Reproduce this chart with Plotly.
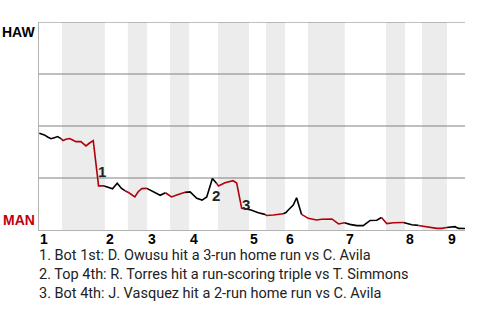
import plotly.graph_objects as go

# Win-probability track (x = play index, y = HAW win probability)
play_x = [0.1, 1.6, 2.6, 3.6, 4.6, 5.6, 6.6,
          7.2, 8.1, 9.2, 10.1, 11.1, 12.6, 14.1, 15.1, 16.3, 17.9, 19.6,
          22.1, 23.5, 24.8, 25.8, 26.9,
          28.8, 29.8, 30.9, 32.4,
          33.9, 34.9, 36.4, 38.0, 39.8,
          41.4, 42.9, 43.9, 45.4,
          47.4, 49.0, 50.4, 52.1, 53.4, 53.9,
          55.9, 58.3, 59.4, 60.9, 62.4, 63.7,
          65.9, 67.9, 68.4,
          70.4, 73.4, 74.2,
          74.9, 76.4, 77.4, 78.9, 80.9,
          83.4, 84.9, 88.0, 88.9, 90.0, 91.8,
          93.4, 95.5, 97.4, 99.5, 101.5, 102.9, 104.5,
          106.5, 109.5,
          110.5, 112.0, 114.0, 115.4,
          117.5, 119.5, 121.0, 122.5,
          124.0, 125.0, 126.0, 128.0]
haw_prob = [0.465, 0.457, 0.447, 0.439, 0.444, 0.449, 0.439,
            0.430, 0.436, 0.440, 0.433, 0.425, 0.425, 0.404, 0.417, 0.430, 0.212, 0.212,
            0.198, 0.225, 0.200, 0.189, 0.180,
            0.159, 0.184, 0.199, 0.200,
            0.189, 0.179, 0.167, 0.179, 0.159,
            0.168, 0.176, 0.181, 0.183,
            0.152, 0.144, 0.159, 0.248, 0.224, 0.212,
            0.227, 0.237, 0.226, 0.104, 0.101, 0.096,
            0.083, 0.075, 0.070,
            0.072, 0.078, 0.084,
            0.096, 0.120, 0.155, 0.075, 0.056,
            0.048, 0.052, 0.053, 0.041, 0.029, 0.035,
            0.027, 0.021, 0.021, 0.046, 0.047, 0.060, 0.031,
            0.035, 0.036,
            0.032, 0.025, 0.022, 0.018,
            0.013, 0.008, 0.008, 0.012,
            0.013, 0.016, 0.008, 0.007]

# Half-inning boundaries (play index)
inning_labels = ["1", "2", "3", "4", "5", "6", "7", "8", "9"]
top_starts = [0.0, 19.8, 32.5, 45.1, 63.1, 73.9, 91.9, 110.0, 122.6]
bot_starts = [6.9, 26.7, 39.4, 53.8, 68.2, 80.8, 104.3, 115.1]
x_end = 128.0

# Key events
event_ids = ["1", "2", "3"]
event_x = [18.8, 53.2, 62.2]
event_y = [0.280, 0.168, 0.125]
event_texts = [
    "1. Bot 1st: D. Owusu hit a 3-run home run vs C. Avila",
    "2. Top 4th: R. Torres hit a run-scoring triple vs T. Simmons",
    "3. Bot 4th: J. Vasquez hit a 2-run home run vs C. Avila",
]

grid_vals = [0.25, 0.5, 0.75, 1.0]

RED = "#b0000c"
BLACK = "#000000"

fig = go.Figure()

shapes = []
# Shaded bottom halves
for i, b in enumerate(bot_starts):
    e = top_starts[i + 1] if i + 1 < len(top_starts) else x_end
    shapes.append(dict(type="rect", xref="x", yref="paper", x0=b, x1=e, y0=0, y1=1,
                       fillcolor="#ececec", line=dict(width=0), layer="below"))
# Horizontal grid lines
for g in grid_vals:
    shapes.append(dict(type="line", xref="paper", yref="y", x0=0, x1=1, y0=g, y1=g,
                       line=dict(color="#808080", width=1), layer="below"))

# Half-inning segments
halves = []
for i, t in enumerate(top_starts):
    b = bot_starts[i] if i < len(bot_starts) else x_end
    halves.append((t, b, BLACK))
    if i < len(bot_starts):
        e = top_starts[i + 1] if i + 1 < len(top_starts) else x_end
        halves.append((b, e, RED))

for (s, e, col) in halves:
    idx = [k for k, xv in enumerate(play_x) if s <= xv < e or (e == x_end and xv == e)]
    if not idx:
        continue
    if idx[0] > 0:
        idx = [idx[0] - 1] + idx
    fig.add_trace(go.Scatter(x=[play_x[k] for k in idx], y=[haw_prob[k] for k in idx],
                             mode="lines", line=dict(color=col, width=1.6),
                             hoverinfo="skip", showlegend=False, cliponaxis=False))

annotations = []
for lab, xs in zip(inning_labels, top_starts):
    annotations.append(dict(x=xs, y=0, xref="x", yref="paper", text="<b>" + lab + "</b>",
                            showarrow=False, xanchor="left", yanchor="top", xshift=-1, yshift=1,
                            font=dict(family="Liberation Sans", size=14, color="#000")))
for eid, ex, ey in zip(event_ids, event_x, event_y):
    annotations.append(dict(x=ex, y=ey, xref="x", yref="y", text="<b>" + eid + "</b>",
                            showarrow=False,
                            font=dict(family="Liberation Sans", size=15, color="#222")))
annotations.append(dict(x=0, y=1, xref="paper", yref="paper", text="<b>HAW</b>", showarrow=False,
                        xanchor="right", yanchor="top", xshift=-2,
                        font=dict(family="Liberation Sans", size=14, color="#000")))
annotations.append(dict(x=0, y=0, xref="paper", yref="paper", text="<b>MAN</b>", showarrow=False,
                        xanchor="right", yanchor="bottom", xshift=-2,
                        font=dict(family="Liberation Sans", size=14, color="#c0000e")))
annotations.append(dict(x=0, y=0, xref="paper", yref="paper", text="<br>".join(event_texts),
                        showarrow=False, xanchor="left", yanchor="top", align="left",
                        yshift=-15, xshift=-2,
                        font=dict(family="Roboto", size=14.5, color="#222")))

fig.update_layout(
    width=480, height=320,
    margin=dict(l=39, r=15, t=22, b=90),
    paper_bgcolor="white", plot_bgcolor="white",
    shapes=shapes, annotations=annotations,
    xaxis=dict(range=[0, x_end], showgrid=False, zeroline=False, showticklabels=False,
               ticks="", showline=True, linecolor="#b4b4b4", linewidth=1),
    yaxis=dict(range=[0, 1], showgrid=False, showticklabels=False,
               zeroline=False, ticks="",
               showline=True, linecolor="#b4b4b4", linewidth=1),
)

fig.write_html("out.html")
